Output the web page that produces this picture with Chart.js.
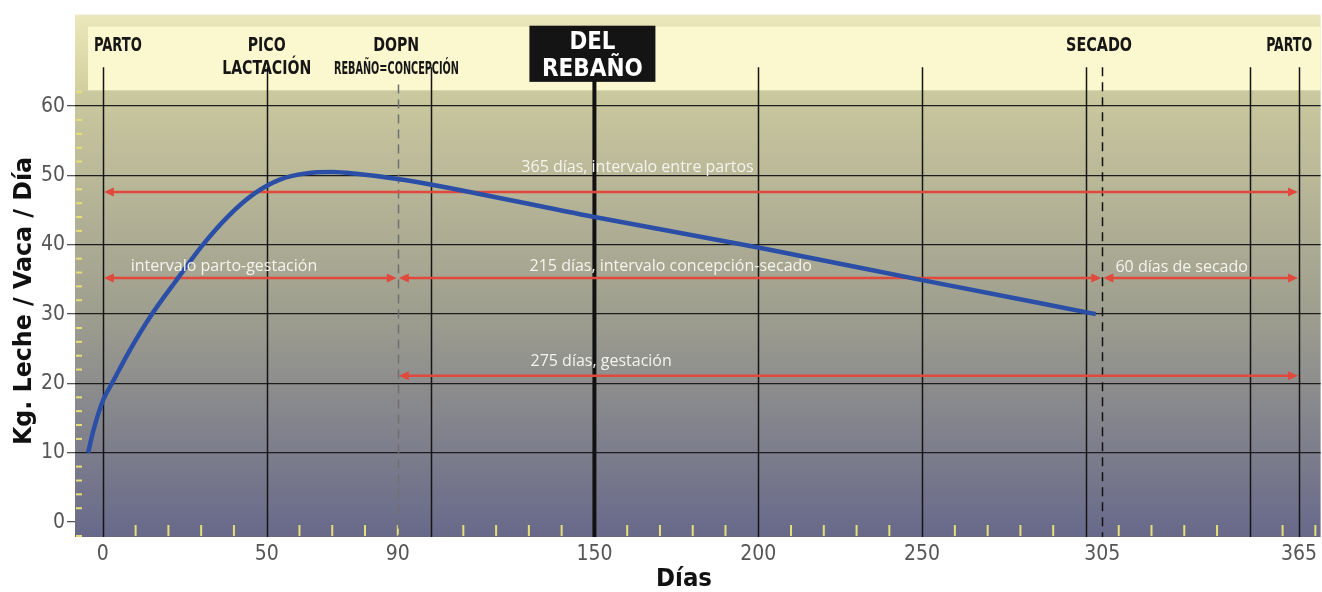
<!DOCTYPE html>
<html>
<head>
<meta charset="utf-8">
<script src="https://cdn.jsdelivr.net/npm/chart.js@4/dist/chart.umd.min.js"></script>
<style>
  html, body { margin: 0; padding: 0; background: #fff; }
  #wrap { width: 1322px; height: 592px; }
</style>
</head>
<body>
<div id="wrap"><canvas id="curva" width="1322" height="592"></canvas></div>
<script>
// Lactation curve (kg milk / cow / day)
const days = [-4.5, -3, 0, 3, 8, 15, 22, 30, 38, 46, 54, 62, 70, 78, 90, 100, 150, 200, 250, 303];
const kgLeche = [10, 13, 17.5, 20.2, 24.6, 30, 34.6, 39.7, 44.0, 47.3, 49.4, 50.3, 50.5, 50.2, 49.5, 48.7, 44.0, 39.6, 34.9, 30];

// axis ticks
const xTickDays = [0, 50, 90, 150, 200, 250, 305, 365];
const yTickKg = [0, 10, 20, 30, 40, 50, 60];

// vertical reference lines
const solidDays = [0, 50, 100, 200, 250, 300, 350, 365];
const herdDay = 150;
const dashedDays = [90, 305];

// red interval arrows
const arrowFrom = [0, 0, 90, 305, 90];
const arrowTo = [365, 90, 305, 365, 365];
const arrowKg = [47.6, 35.2, 35.2, 35.2, 21.1];

// white notes (left edge day, baseline kg)
const noteTexts = ["365 días, intervalo entre partos", "intervalo parto-gestación",
  "215 días, intervalo concepción-secado", "60 días de secado", "275 días, gestación"];
const noteDays = [127.7, 8.5, 130.2, 309, 130.5];
const noteKg = [50.5, 36.2, 36.2, 36.1, 22.5];

// header labels (center day, baseline kg)
const headTexts = ["PARTO", "PICO", "LACTACIÓN", "DOPN", "REBAÑO=CONCEPCIÓN", "SECADO", "PARTO"];
const headDays = [4.6, 50, 50, 89.5, 89.6, 304, 362];
const headKg = [68.0, 68.0, 64.6, 68.0, 64.6, 68.0, 68.0];
const herdLabel = ["DEL", "REBAÑO"];

const RED = "#e0493b";
const COND = '"DejaVu Sans Condensed", "Liberation Sans Narrow", sans-serif';

// widths of the original lettering, so the text keeps its footprint
const noteWidths = [283, 226, 348, 163, 173];
const headWidths = [48, 38, 89, 46, 125, 66, 46];

function arrowHead(ctx, x, y, dir) {
  ctx.beginPath();
  ctx.moveTo(x, y);
  ctx.lineTo(x - dir * 10, y - 4.5);
  ctx.lineTo(x - dir * 10, y + 4.5);
  ctx.closePath();
  ctx.fill();
}

const decor = {
  id: "decor",
  beforeDraw(chart) {
    const { ctx, chartArea: a, scales: { x, y } } = chart;
    const headBottom = y.getPixelForValue(62.3);
    ctx.save();
    // plot background
    const g = ctx.createLinearGradient(0, headBottom, 0, a.bottom);
    g.addColorStop(0, "#cbc99e");
    g.addColorStop(0.5, "#9e9e8f");
    g.addColorStop(1, "#68698a");
    ctx.fillStyle = g;
    ctx.fillRect(a.left, headBottom, a.right - a.left, a.bottom - headBottom);
    // header band
    const hg = ctx.createLinearGradient(0, a.top, 0, headBottom);
    hg.addColorStop(0, "#ece8bd");
    hg.addColorStop(1, "#d3cf9d");
    ctx.fillStyle = hg;
    ctx.fillRect(a.left, a.top, a.right - a.left, headBottom - a.top);
    ctx.fillStyle = "#fbf7cf";
    ctx.fillRect(a.left + 13, a.top + 12, a.right - a.left - 13, headBottom - a.top - 12);

    // yellow minor ticks
    ctx.strokeStyle = "#e6df78";
    ctx.lineWidth = 2;
    for (let d = 10; d <= 370; d += 10) {
      if (d % 50 === 0 && d <= 350) continue;
      const px = x.getPixelForValue(d);
      ctx.beginPath();
      ctx.moveTo(px, a.bottom - 12);
      ctx.lineTo(px, a.bottom - 1);
      ctx.stroke();
    }
    for (let k = -2; k <= 62; k += 2) {
      if (k % 10 === 0 && k >= 0 && k <= 60) continue;
      const py = y.getPixelForValue(k);
      ctx.beginPath();
      ctx.moveTo(a.left + 1, py);
      ctx.lineTo(a.left + 7, py);
      ctx.stroke();
    }
    ctx.restore();
  },
  beforeDatasetsDraw(chart) {
    const { ctx, chartArea: a, scales: { x, y } } = chart;
    const top = y.getPixelForValue(65.6);
    ctx.save();
    ctx.strokeStyle = "#151515";
    ctx.lineWidth = 1.5;
    solidDays.forEach(d => {
      const px = Math.round(x.getPixelForValue(d)) + 0.5;
      ctx.beginPath();
      ctx.moveTo(px, top);
      ctx.lineTo(px, a.bottom);
      ctx.stroke();
    });
    // dashed: conception (grey) and drying off (black)
    ctx.setLineDash([9, 6]);
    dashedDays.forEach((d, i) => {
      const px = Math.round(x.getPixelForValue(d)) + 0.5;
      ctx.strokeStyle = i === 0 ? "#6f6f6f" : "#111";
      ctx.beginPath();
      ctx.moveTo(px, i === 0 ? y.getPixelForValue(63.1) : top);
      ctx.lineTo(px, a.bottom);
      ctx.stroke();
    });
    ctx.setLineDash([]);
    // herd DIM line
    ctx.strokeStyle = "#111";
    ctx.lineWidth = 4;
    const hx = x.getPixelForValue(herdDay);
    ctx.beginPath();
    ctx.moveTo(hx, y.getPixelForValue(66));
    ctx.lineTo(hx, a.bottom);
    ctx.stroke();

    // red arrows
    ctx.strokeStyle = RED;
    ctx.fillStyle = RED;
    ctx.lineWidth = 2.5;
    arrowFrom.forEach((f, i) => {
      const x1 = x.getPixelForValue(f) + 1;
      const x2 = x.getPixelForValue(arrowTo[i]) - 1;
      const py = y.getPixelForValue(arrowKg[i]);
      ctx.beginPath();
      ctx.moveTo(x1 + 6, py);
      ctx.lineTo(x2 - 6, py);
      ctx.stroke();
      arrowHead(ctx, x1, py, -1);
      arrowHead(ctx, x2, py, 1);
    });
    ctx.restore();
  },
  afterDatasetsDraw(chart) {
    const { ctx, scales: { x, y } } = chart;
    ctx.save();
    // notes
    ctx.fillStyle = "#f4f4ee";
    ctx.font = '16px "Open Sans", "DejaVu Sans", sans-serif';
    ctx.textAlign = "left";
    ctx.textBaseline = "alphabetic";
    noteTexts.forEach((t, i) => {
      ctx.fillText(t, x.getPixelForValue(noteDays[i]), y.getPixelForValue(noteKg[i]), noteWidths[i]);
    });
    // header labels
    ctx.fillStyle = "#161616";
    ctx.textAlign = "center";
    headTexts.forEach((t, i) => {
      ctx.font = "bold " + (i === 4 ? 17 : 19) + "px " + COND;
      ctx.fillText(t, x.getPixelForValue(headDays[i]), y.getPixelForValue(headKg[i]), headWidths[i]);
    });
    // DEL REBAÑO box
    const cx = x.getPixelForValue(herdDay) - 2;
    ctx.fillStyle = "#141414";
    ctx.fillRect(cx - 63, y.getPixelForValue(71.6), 126, y.getPixelForValue(63.5) - y.getPixelForValue(71.6));
    ctx.fillStyle = "#fff";
    ctx.font = "bold 24px " + COND;
    ctx.fillText(herdLabel[0], cx, y.getPixelForValue(68.2), 46);
    ctx.fillText(herdLabel[1], cx, y.getPixelForValue(64.4), 106);

    // axis titles
    ctx.fillStyle = "#111";
    ctx.font = 'bold 24px "DejaVu Sans", sans-serif';
    ctx.fillText("Días", 684, 586, 56);
    ctx.translate(31, 301);
    ctx.rotate(-Math.PI / 2);
    ctx.fillText("Kg. Leche / Vaca / Día", 0, 0, 288);
    ctx.restore();
  }
};

new Chart(document.getElementById("curva"), {
  type: "line",
  data: {
    datasets: [{
      data: days.map((d, i) => ({ x: d, y: kgLeche[i] })),
      borderColor: "#2b4ea6",
      borderWidth: 4.5,
      pointRadius: 0,
      cubicInterpolationMode: "monotone",
      fill: false
    }]
  },
  options: {
    responsive: false,
    animation: false,
    devicePixelRatio: 1,
    layout: { padding: { top: 12, left: 0, right: 0, bottom: 0 } },
    plugins: { legend: { display: false }, tooltip: { enabled: false } },
    scales: {
      x: {
        type: "linear",
        min: -8.5,
        max: 371.6,
        afterBuildTicks: s => { s.ticks = xTickDays.map(v => ({ value: v })); },
        afterFit: s => { s.height = 55; },
        grid: { display: false, drawTicks: false },
        border: { display: false },
        ticks: {
          autoSkip: false,
          maxRotation: 0,
          padding: 5,
          color: "#555",
          font: { family: COND, size: 21 }
        }
      },
      y: {
        type: "linear",
        min: -2.15,
        max: 73.2,
        afterBuildTicks: s => { s.ticks = yTickKg.map(v => ({ value: v })); },
        afterFit: s => { s.width = 75; },
        border: { display: false },
        grid: {
          color: c => (c.tick && c.tick.value === 0 ? "rgba(0,0,0,0)" : "#1c1c1c"),
          tickColor: "#555",
          lineWidth: 1.3,
          tickLength: 8
        },
        ticks: {
          padding: 2,
          color: "#555",
          font: { family: COND, size: 21 }
        }
      }
    }
  },
  plugins: [decor]
});
</script>
</body>
</html>
